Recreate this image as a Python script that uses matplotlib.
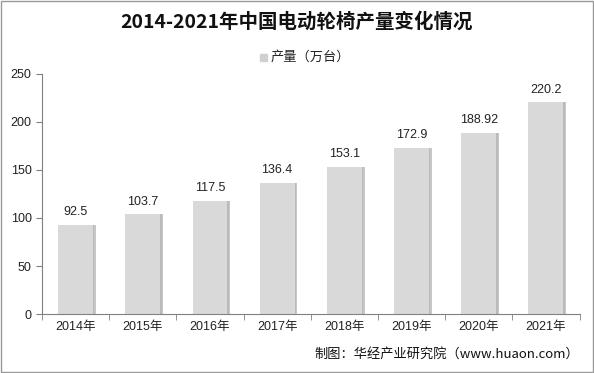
import matplotlib
matplotlib.use("Agg")
import matplotlib.pyplot as plt
from matplotlib.patches import Rectangle

plt.rcParams["font.family"] = ["Liberation Sans", "Noto Sans CJK SC", "DejaVu Sans"]

years = ["2014年", "2015年", "2016年", "2017年", "2018年", "2019年", "2020年", "2021年"]
output = [92.5, 103.7, 117.5, 136.4, 153.1, 172.9, 188.92, 220.2]
value_labels = ["92.5", "103.7", "117.5", "136.4", "153.1", "172.9", "188.92", "220.2"]

fig = plt.figure(figsize=(5.94, 3.73), dpi=100)
ax = fig.add_axes([0.0707, 0.158, 0.905, 0.644])

x = range(len(years))
# soft shadow on the right of each bar
ax.bar([i + 0.04 for i in x], output, width=0.52, color="#9a9a9a", alpha=0.55, zorder=1)
ax.bar([i + 0.02 for i in x], output, width=0.52, color="#b5b5b5", alpha=0.7, zorder=1)
ax.bar(x, output, width=0.52, color="#d9d9d9", edgecolor="none", zorder=2)

for i, (v, lab) in enumerate(zip(output, value_labels)):
    ax.text(i, v + 7, lab, ha="center", va="bottom", fontsize=9, color="#222222")

ax.set_xlim(-0.5, len(years) - 0.5)
ax.set_ylim(0, 250)
ax.set_yticks(range(0, 251, 50))
ax.set_xticks(list(x))
ax.set_xticklabels(years, fontsize=9)
ax.tick_params(axis="y", labelsize=9, length=4, color="#808080", labelcolor="#222222")
ax.tick_params(axis="x", length=0, pad=5, labelcolor="#222222")
# category-boundary ticks on the x-axis
ax.set_xticks([i - 0.5 for i in range(len(years) + 1)], minor=True)
ax.tick_params(axis="x", which="minor", length=4, color="#808080")

for side in ["top", "right"]:
    ax.spines[side].set_visible(False)
for side in ["left", "bottom"]:
    ax.spines[side].set_color("#808080")

fig.text(0.5, 0.94, "2014-2021年中国电动轮椅产量变化情况", ha="center", va="center",
         fontsize=14, fontweight="bold", color="#111111",
         family=["Noto Sans CJK SC", "DejaVu Sans"])

fig.patches.append(Rectangle((0.437, 0.836), 0.012, 0.02, transform=fig.transFigure,
                             color="#d0d0d0", figure=fig))
fig.text(0.455, 0.846, "产量（万台）", ha="left", va="center", fontsize=9.5, color="#222222",
         family=["Noto Sans CJK SC", "DejaVu Sans"])

fig.text(0.975, 0.05, "制图：华经产业研究院（www.huaon.com）", ha="right", va="center",
         fontsize=9.5, color="#111111", family=["Noto Sans CJK SC", "DejaVu Sans"])

fig.patches.append(Rectangle((0.001, 0.002), 0.997, 0.995, transform=fig.transFigure,
                             fill=False, edgecolor="#999999", linewidth=1, figure=fig))

fig.savefig("out.png", dpi=100)
